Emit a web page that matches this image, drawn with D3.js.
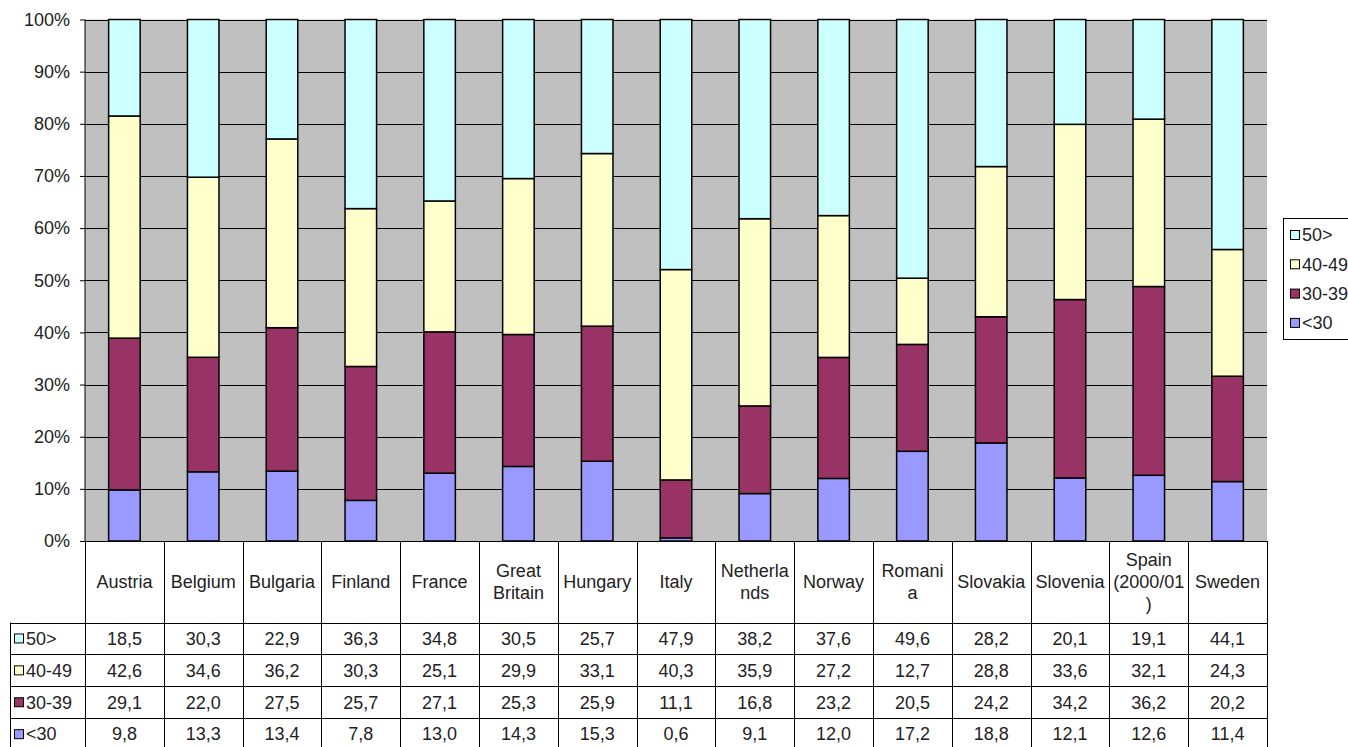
<!DOCTYPE html>
<html><head><meta charset="utf-8">
<script src="https://cdn.jsdelivr.net/npm/d3@7"></script>
<style>
html,body{margin:0;padding:0;background:#fff;}
svg{display:block;font-family:"Liberation Sans",Arial,sans-serif;}
</style></head>
<body>
<svg id="chart" width="1348" height="747"></svg>
<script>
const categories = ["Austria","Belgium","Bulgaria","Finland","France","Great Britain","Hungary","Italy","Netherlands","Norway","Romania","Slovakia","Slovenia","Spain (2000/01)","Sweden"];
const headerLines = [["Austria"],["Belgium"],["Bulgaria"],["Finland"],["France"],["Great","Britain"],["Hungary"],["Italy"],["Netherla","nds"],["Norway"],["Romani","a"],["Slovakia"],["Slovenia"],["Spain","(2000/01",")"],["Sweden"]];
const seriesNames = ["50>","40-49","30-39","<30"];
const s50plus = [18.5,30.3,22.9,36.3,34.8,30.5,25.7,47.9,38.2,37.6,49.6,28.2,20.1,19.1,44.1];
const s40_49 = [42.6,34.6,36.2,30.3,25.1,29.9,33.1,40.3,35.9,27.2,12.7,28.8,33.6,32.1,24.3];
const s30_39 = [29.1,22.0,27.5,25.7,27.1,25.3,25.9,11.1,16.8,23.2,20.5,24.2,34.2,36.2,20.2];
const sUnder30 = [9.8,13.3,13.4,7.8,13.0,14.3,15.3,0.6,9.1,12.0,17.2,18.8,12.1,12.6,11.4];
const yTicks = [0,0.1,0.2,0.3,0.4,0.5,0.6,0.7,0.8,0.9,1.0];
const colors = {"50>":"#CCFFFF","40-49":"#FFFFCC","30-39":"#993366","<30":"#9999FF"};

const seriesValues = {"50>":s50plus,"40-49":s40_49,"30-39":s30_39,"<30":sUnder30};
const rows = categories.map((c,i)=>{const o={cat:c}; seriesNames.forEach(s=>o[s]=seriesValues[s][i]); return o;});

const svg = d3.select("#chart");
const L=85, R=1267, T=19.5, B=541;
const FONT=18;
const TXT="#222";

const xCol = d3.scaleBand().domain(categories).range([L,R]).padding(0);
const xBar = d3.scaleBand().domain(categories).range([L,R]).paddingInner(0.6).paddingOuter(0.3);
const y = d3.scaleLinear().domain([0,1]).range([B,T]);

// plot background
svg.append("rect").attr("x",L).attr("y",T).attr("width",R-L).attr("height",B-T).attr("fill","#C0C0C0");
// gridlines
svg.append("g").selectAll("line").data(yTicks).join("line")
  .attr("x1",L).attr("x2",R).attr("y1",d=>Math.round(y(d))+0.5).attr("y2",d=>Math.round(y(d))+0.5)
  .attr("stroke","#000").attr("stroke-width",1);

// stacked bars
const stack = d3.stack().keys(["<30","30-39","40-49","50>"]).offset(d3.stackOffsetExpand);
const stacked = stack(rows);
svg.append("g").selectAll("g").data(stacked).join("g")
  .attr("fill",d=>colors[d.key])
  .selectAll("rect").data(d=>d).join("rect")
  .attr("x",d=>xBar(d.data.cat)).attr("width",xBar.bandwidth())
  .attr("y",d=>y(d[1])).attr("height",d=>y(d[0])-y(d[1]))
  .attr("stroke","#000").attr("stroke-width",1.5);

// y axis
const yAxis = d3.axisLeft(y).tickValues(yTicks).tickFormat(d3.format(".0%")).tickSize(5).tickPadding(10);
const ga = svg.append("g").attr("transform",`translate(${L},0)`).call(yAxis);
ga.select(".domain").attr("stroke","#000").attr("d",`M0,${T}V${B}`);
ga.selectAll(".tick line").attr("stroke","#000");
ga.selectAll(".tick text").attr("font-size",FONT).attr("fill",TXT).attr("font-family","Liberation Sans, Arial, sans-serif");

// data table
const headTop=B, headBot=622.5;
const yRow = d3.scaleBand().domain(seriesNames).range([headBot, headBot+4*31.9]);
const tbl = svg.append("g");
// header text
tbl.selectAll("text.hdr").data(categories).join("text").attr("class","hdr")
  .attr("x",d=>xCol(d)+xCol.bandwidth()/2).attr("text-anchor","middle")
  .attr("font-size",FONT).attr("fill",TXT)
  .each(function(d,i){
    const lines=headerLines[i]; const lh=22;
    const cy=(headTop+headBot)/2 - (lines.length-1)*lh/2;
    d3.select(this).selectAll("tspan").data(lines).join("tspan")
      .attr("x",xCol(d)+xCol.bandwidth()/2).attr("y",(l,j)=>cy+j*lh).attr("dy","0.35em").text(l=>l);
  });
// values
const fmt = v=>d3.format(".1f")(v).replace(".",",");
seriesNames.forEach(s=>{
  tbl.append("g").selectAll("text").data(rows).join("text")
    .attr("x",d=>xCol(d.cat)+xCol.bandwidth()/2).attr("y",yRow(s)+yRow.bandwidth()/2).attr("dy","0.35em")
    .attr("text-anchor","middle").attr("font-size",FONT).attr("fill",TXT).text(d=>fmt(d[s]));
  tbl.append("rect").attr("x",14.5).attr("y",yRow(s)+yRow.bandwidth()/2-4.5).attr("width",9).attr("height",9)
    .attr("fill",colors[s]).attr("stroke","#000").attr("stroke-width",1);
  tbl.append("text").attr("x",26).attr("y",yRow(s)+yRow.bandwidth()/2).attr("dy","0.35em")
    .attr("font-size",FONT).attr("fill",TXT).text(s);
});
// table grid lines
const bottom = headBot+4*31.9;
const colEdges = categories.map(c=>xCol(c)).concat([R]);
tbl.selectAll("line.v").data(colEdges).join("line").attr("class","v")
  .attr("x1",d=>Math.round(d)+0.5).attr("x2",d=>Math.round(d)+0.5).attr("y1",headTop).attr("y2",bottom)
  .attr("stroke","#000");
tbl.append("line").attr("x1",10.5).attr("x2",10.5).attr("y1",headBot).attr("y2",bottom).attr("stroke","#000");
const rowEdges = seriesNames.map(s=>yRow(s)).concat([bottom]);
tbl.selectAll("line.h").data(rowEdges).join("line").attr("class","h")
  .attr("x1",10).attr("x2",R).attr("y1",d=>Math.round(d)+0.5).attr("y2",d=>Math.round(d)+0.5).attr("stroke","#000");
svg.append("line").attr("x1",L).attr("x2",R).attr("y1",B+0.5).attr("y2",B+0.5).attr("stroke","#000");

// legend
const lg = svg.append("g");
const lgTop=218, lgStep=29.3;
lg.append("rect").attr("x",1283.5).attr("y",lgTop+0.5).attr("width",80).attr("height",121).attr("fill","#fff").attr("stroke","#000");
seriesNames.forEach((s,i)=>{
  const cy=lgTop+17+i*lgStep;
  lg.append("rect").attr("x",1290.5).attr("y",cy-4.5).attr("width",9).attr("height",9).attr("fill",colors[s]).attr("stroke","#000");
  lg.append("text").attr("x",1302).attr("y",cy).attr("dy","0.35em").attr("font-size",FONT).attr("fill",TXT).text(s);
});
</script>
</body></html>
